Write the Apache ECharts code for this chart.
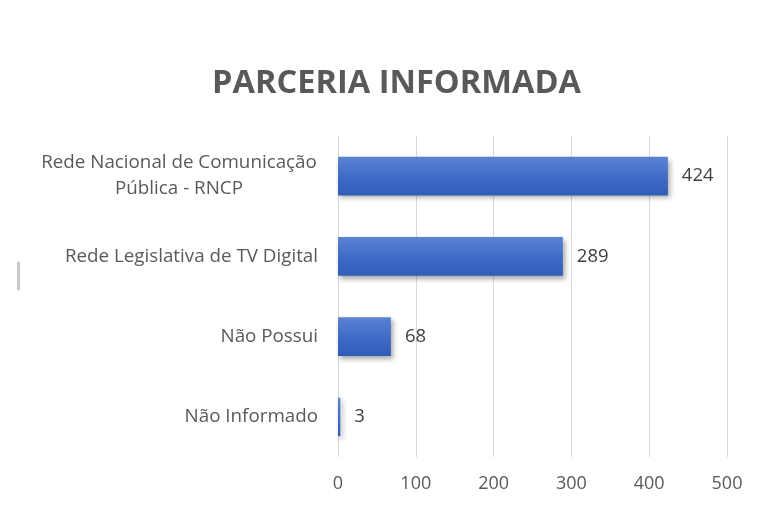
<!DOCTYPE html>
<html><head><meta charset="utf-8">
<script src="https://cdn.jsdelivr.net/npm/echarts@6/dist/echarts.min.js"></script>
<style>html,body{margin:0;padding:0;background:#fff}#c{width:768px;height:507px}</style>
</head><body><div id="c"></div>
<script>
const title = 'PARCERIA INFORMADA';
const categories = ['Não Informado', 'Não Possui', 'Rede Legislativa de TV Digital', 'Rede Nacional de Comunicação\nPública - RNCP'];
const values = [3, 68, 289, 424];
const xTicks = [0, 100, 200, 300, 400, 500];

const chart = echarts.init(document.getElementById('c'));
const font = '"Open Sans", sans-serif';
chart.setOption({
  backgroundColor: '#fff',
  animation: false,
  title: {
    text: title, left: 207, top: 62,
    textStyle: { fontFamily: font, fontSize: 32.6, fontWeight: 'bold', color: '#595959' }
  },
  grid: { left: 338, right: 41, top: 136, bottom: 50 },
  xAxis: {
    type: 'value', min: xTicks[0], max: xTicks[xTicks.length - 1], interval: 100,
    axisLine: { show: false }, axisTick: { show: false },
    splitLine: { lineStyle: { color: '#d9d9d9', width: 1 } },
    axisLabel: { color: '#595959', fontFamily: font, fontSize: 18, margin: 18 }
  },
  yAxis: {
    type: 'category', data: categories,
    axisLine: { show: false }, axisTick: { show: false },
    axisLabel: {
      color: '#595959', fontFamily: font, fontSize: 18.8, margin: 20, lineHeight: 26,
      formatter: function (v) { return v.indexOf('\n') >= 0 ? '{c|' + v + '}' : v; },
      rich: { c: { width: 278, align: 'center', color: '#595959', fontFamily: font, fontSize: 18.8, lineHeight: 26 } }
    }
  },
  series: [{
    type: 'bar', data: values, barCategoryGap: '52%',
    itemStyle: {
      color: new echarts.graphic.LinearGradient(0, 0, 0, 1, [
        { offset: 0, color: '#5b83d2' }, { offset: 0.5, color: '#406cc7' }, { offset: 1, color: '#2f5cb7' }
      ]),
      shadowColor: 'rgba(0,0,0,0.35)', shadowBlur: 5, shadowOffsetX: 2, shadowOffsetY: 3
    },
    label: { show: true, position: 'right', distance: 14, color: '#404040', fontFamily: font, fontSize: 18.5 }
  }],
  graphic: [{ type: 'rect', shape: { x: 17, y: 262, width: 3, height: 28 }, style: { fill: '#c8c8c8' } }]
});
</script></body></html>
